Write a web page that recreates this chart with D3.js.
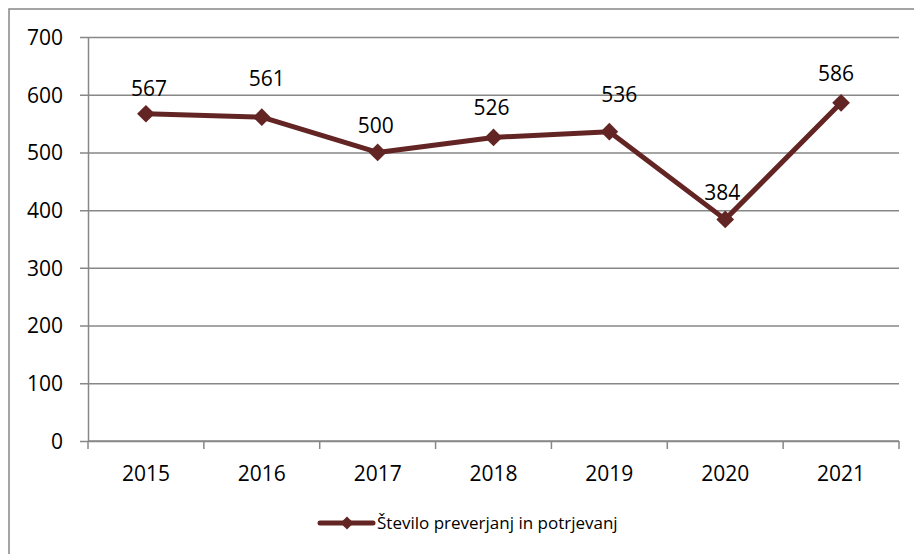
<!DOCTYPE html>
<html lang="sl">
<head>
<meta charset="UTF-8">
<title>Število preverjanj in potrjevanj</title>
<script src="https://d3js.org/d3.v7.min.js"></script>
<style>
  body { margin: 0; background: #fff; }
  text { font-family: "Open Sans", "Noto Sans", sans-serif; fill: #000; }
</style>
</head>
<body>
<div id="chart"></div>
<script>
// data
var years = ["2015", "2016", "2017", "2018", "2019", "2020", "2021"];
var counts = [567, 561, 500, 526, 536, 384, 586];
var yTicks = [0, 100, 200, 300, 400, 500, 600, 700];
var seriesName = "Število preverjanj in potrjevanj";

// small hand nudges of the data labels, as in the original
var labelDx = [3, 5, -2, -2, 10, -3, -5];
var labelDy = [-25, -39, -27, -30, -37, -27, -29];

var W = 914, H = 554;
var margin = {top: 37, right: 15, bottom: 113, left: 88};
var width = 899 - margin.left,
    height = 441 - margin.top;
var lineColor = "#632523", gridColor = "#878787";

var svg = d3.select("#chart").append("svg")
  .attr("width", W).attr("height", H);

// outer frame (runs past the window on right and bottom)
svg.append("rect")
  .attr("x", 9).attr("y", 9)
  .attr("width", W + 10).attr("height", H + 10)
  .attr("fill", "none").attr("stroke", gridColor).attr("stroke-width", 1.5);

var g = svg.append("g")
  .attr("transform", "translate(" + margin.left + "," + margin.top + ")");

var x = d3.scaleBand().domain(years).range([0, width]);
var y = d3.scaleLinear().domain([0, 700]).range([height, 0]);

// gridlines + y axis
var yAxis = g.append("g")
  .call(d3.axisLeft(y).tickValues(yTicks).tickSize(-width).tickPadding(14).tickSizeOuter(0));
yAxis.select(".domain").attr("stroke", gridColor).attr("stroke-width", 1.5);
yAxis.selectAll(".tick line")
  .attr("x1", -8)
  .attr("stroke", gridColor).attr("stroke-width", 1.5);
yAxis.selectAll(".tick text")
  .style("font-size", "21px").attr("x", -25).attr("dy", "0.35em");

// x axis with ticks at band edges
var xAxis = g.append("g").attr("transform", "translate(0," + height + ")");
xAxis.append("line")
  .attr("x1", 0).attr("x2", width)
  .attr("stroke", gridColor).attr("stroke-width", 1.5);
xAxis.selectAll(".edge")
  .data(years.concat(["end"]))
  .enter().append("line")
    .attr("x1", function(d, i) { return i * x.step(); })
    .attr("x2", function(d, i) { return i * x.step(); })
    .attr("y1", 0).attr("y2", 8)
    .attr("stroke", gridColor).attr("stroke-width", 1.5);
xAxis.selectAll(".lab")
  .data(years)
  .enter().append("text")
    .attr("x", function(d) { return x(d) + x.bandwidth() / 2; })
    .attr("y", 33)
    .attr("dy", "0.35em")
    .attr("text-anchor", "middle")
    .style("font-size", "21px")
    .text(function(d) { return d; });

var cx = function(d, i) { return x(years[i]) + x.bandwidth() / 2; };

// line
var line = d3.line()
  .x(function(d, i) { return cx(d, i); })
  .y(function(d) { return y(d); });
g.append("path")
  .datum(counts)
  .attr("d", line)
  .attr("fill", "none")
  .attr("stroke", lineColor)
  .attr("stroke-width", 5)
  .attr("stroke-linejoin", "round");

// diamond markers
var diamond = d3.symbol().type(d3.symbolDiamond2).size(200);
g.selectAll(".pt")
  .data(counts)
  .enter().append("path")
    .attr("d", diamond)
    .attr("transform", function(d, i) { return "translate(" + cx(d, i) + "," + y(d) + ")"; })
    .attr("fill", lineColor);

// data labels
g.selectAll(".val")
  .data(counts)
  .enter().append("text")
    .attr("x", function(d, i) { return cx(d, i) + labelDx[i]; })
    .attr("y", function(d, i) { return y(d) + labelDy[i]; })
    .attr("dy", "0.35em")
    .attr("text-anchor", "middle")
    .style("font-size", "21px")
    .text(function(d) { return d; });

// legend
var leg = svg.append("g").attr("transform", "translate(320,523)");
leg.append("line")
  .attr("x1", 0).attr("x2", 53)
  .attr("stroke", lineColor).attr("stroke-width", 5).attr("stroke-linecap", "round");
leg.append("path")
  .attr("d", d3.symbol().type(d3.symbolDiamond2).size(110))
  .attr("transform", "translate(27,0)")
  .attr("fill", lineColor);
leg.append("text")
  .attr("x", 57).attr("dy", "0.35em")
  .style("font-size", "17px")
  .text(seriesName);
</script>
</body>
</html>
